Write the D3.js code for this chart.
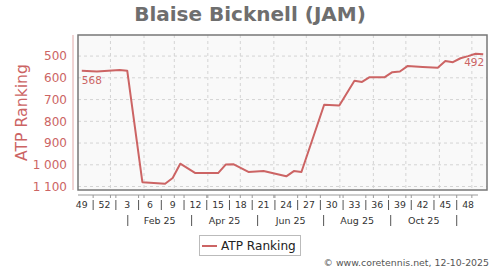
<!DOCTYPE html>
<html><head><meta charset="utf-8">
<script src="https://cdn.jsdelivr.net/npm/d3@7"></script>
<style>body{margin:0;background:#fff}svg{display:block}text{font-family:"DejaVu Sans",sans-serif}</style>
</head><body>
<script>
const title = "Blaise Bicknell (JAM)";
const seriesName = "ATP Ranking";
const weekStarts = ["2024-12-02","2024-12-16","2025-01-06","2025-01-13","2025-01-27","2025-02-17","2025-02-24","2025-03-03","2025-03-17","2025-04-07","2025-04-14","2025-04-21","2025-05-05","2025-05-19","2025-06-09","2025-06-16","2025-06-23","2025-07-14","2025-07-28","2025-08-11","2025-08-18","2025-08-25","2025-09-08","2025-09-15","2025-09-22","2025-09-29","2025-10-13","2025-10-27","2025-11-03","2025-11-10","2025-11-17","2025-11-24","2025-12-01","2025-12-08"];
const ranks = [568,571,564,567,1080,1087,1061,995,1038,1038,999,997,1033,1029,1053,1029,1033,724,727,613,619,597,597,574,571,546,550,554,523,528,510,500,489,492];
const weekTickLabels = ["49","52","3","6","9","12","15","18","21","24","27","30","33","36","39","42","45","48"];
const monthLabels = ["Feb 25","Apr 25","Jun 25","Aug 25","Oct 25"];
const yTicks = [500,600,700,800,900,1000,1100];
const footer = "© www.coretennis.net, 12-10-2025";

const W=500,H=270;
const L=78,R=487,T=35,B=190;
const parse=d3.utcParse("%Y-%m-%d");
const start=parse("2024-12-02"), end=parse("2025-12-15");
const x=d3.scaleUtc().domain([start,end]).range([L,R]);
const y=d3.scaleLinear().domain([403,1116]).range([T,B]);
const mid=d=>d3.utcHour.offset(d,84);
const red="#cc6464";
const fmt=d3.formatLocale({decimal:".",thousands:" ",grouping:[3],currency:["",""]}).format(",d");

const svg=d3.select("body").append("svg").attr("width",W).attr("height",H);
svg.append("text").attr("x",250).attr("y",21).attr("text-anchor","middle")
  .attr("font-size",20).attr("font-weight","bold").attr("fill","#6e6e6e").text(title);

svg.append("rect").attr("x",L).attr("y",T).attr("width",R-L).attr("height",B-T).attr("fill","#f9f9f9");
// gridlines
const months=d3.utcMonth.range(parse("2025-01-01"),parse("2025-12-02"));
svg.append("g").selectAll("line").data(months).join("line")
  .attr("x1",d=>x(d)).attr("x2",d=>x(d)).attr("y1",T).attr("y2",B)
  .attr("stroke","#d4d4d4").attr("stroke-dasharray","3,3");
svg.append("g").selectAll("line").data(yTicks).join("line")
  .attr("x1",L).attr("x2",R).attr("y1",d=>y(d)).attr("y2",d=>y(d))
  .attr("stroke","#d4d4d4").attr("stroke-dasharray","3,3");

// line
const data=weekStarts.map((s,i)=>({d:parse(s),v:ranks[i]}));
svg.append("path").datum(data).attr("fill","none").attr("stroke",red).attr("stroke-width",2)
  .attr("stroke-linejoin","round")
  .attr("d",d3.line().x(p=>x(mid(p.d))).y(p=>y(p.v)));

svg.append("rect").attr("x",L).attr("y",T).attr("width",R-L).attr("height",B-T)
  .attr("fill","none").attr("stroke","#777").attr("stroke-width",1.5);

// point labels
const first=data[0], last=data[data.length-1];
svg.append("text").attr("x",x(mid(first.d))).attr("y",y(first.v)+13.5).attr("font-size",10.5).attr("fill",red).text(first.v);
svg.append("text").attr("x",x(mid(last.d))+1).attr("y",y(last.v)+11.5).attr("text-anchor","end").attr("font-size",10.5).attr("fill",red).text(last.v);

// y axis
svg.append("line").attr("x1",73).attr("x2",73).attr("y1",T).attr("y2",B).attr("stroke","#e0a8a8");
svg.append("g").selectAll("text").data(yTicks).join("text")
  .attr("x",67).attr("y",d=>y(d)+4.3).attr("text-anchor","end").attr("font-size",12).attr("fill",red).text(d=>fmt(d));
svg.append("text").attr("transform","translate(26.5,112.5) rotate(-90)").attr("text-anchor","middle")
  .attr("font-size",15.7).attr("fill",red).text(seriesName);

// x axis
const xa=195;
svg.append("line").attr("x1",L).attr("x2",478).attr("y1",xa).attr("y2",xa).attr("stroke","#999");
const weekPos=weekTickLabels.map((t,i)=>d3.utcDay.offset(start,21*i));
svg.append("g").selectAll("text").data(weekTickLabels).join("text")
  .attr("x",(t,i)=>x(mid(weekPos[i]))).attr("y",208.3).attr("text-anchor","middle")
  .attr("font-size",9.3).attr("fill","#333").text(t=>t);
const seps=weekPos.slice(0,-1).map(d=>d3.utcDay.offset(d,14));
svg.append("g").selectAll("line").data(seps).join("line")
  .attr("x1",d=>x(d)).attr("x2",d=>x(d)).attr("y1",200).attr("y2",210).attr("stroke","#555");
svg.append("g").selectAll("line").data(seps.concat(months)).join("line")
  .attr("x1",d=>x(d)).attr("x2",d=>x(d)).attr("y1",xa).attr("y2",xa+3).attr("stroke","#999");
const bandSeps=["2025-01-17","2025-03-17","2025-05-17","2025-07-17","2025-09-17","2025-11-17"].map(parse);
svg.append("g").selectAll("line").data(bandSeps).join("line")
  .attr("x1",d=>x(d)).attr("x2",d=>x(d)).attr("y1",215).attr("y2",226).attr("stroke","#555");
svg.append("g").selectAll("text").data(monthLabels).join("text")
  .attr("x",(t,i)=>(x(bandSeps[i])+x(bandSeps[i+1]))/2).attr("y",224).attr("text-anchor","middle")
  .attr("font-size",9.5).attr("fill","#333").text(t=>t);

// legend
svg.append("rect").attr("x",199.5).attr("y",235.5).attr("width",101).attr("height",20)
  .attr("fill","#fff").attr("stroke","#bbb");
svg.append("line").attr("x1",202).attr("x2",217).attr("y1",246).attr("y2",246).attr("stroke",red).attr("stroke-width",2);
svg.append("text").attr("x",221).attr("y",250.3).attr("font-size",12.1).attr("fill","#222").text(seriesName);

svg.append("text").attr("x",489).attr("y",266).attr("text-anchor","end").attr("font-size",9.4).attr("fill","#555").text(footer);
</script>
</body></html>
